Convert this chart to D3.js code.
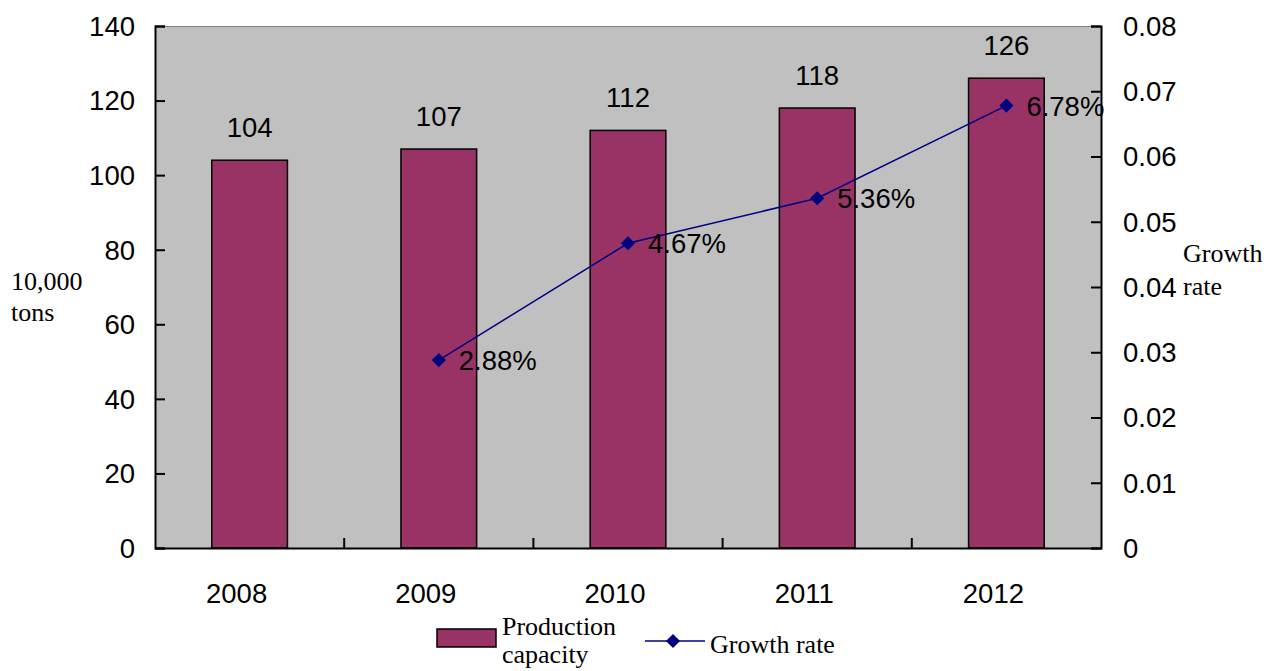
<!DOCTYPE html>
<html><head><meta charset="utf-8">
<script src="https://cdn.jsdelivr.net/npm/d3@7/dist/d3.min.js"></script>
<style>body{margin:0;background:#fff}svg{display:block}</style>
</head><body>
<svg id="c" width="1266" height="671"></svg>
<script>
const years = ["2008","2009","2010","2011","2012"];
const capacity = [104,107,112,118,126];
const growthYears = ["2009","2010","2011","2012"];
const growth = [0.0288,0.0467,0.0536,0.0678];
const growthLabels = ["2.88%","4.67%","5.36%","6.78%"];
const leftTicks = [0,20,40,60,80,100,120,140];
const rightTicks = [0,0.01,0.02,0.03,0.04,0.05,0.06,0.07,0.08];

const svg = d3.select("#c");
const L=155, R=1101, T=26, B=548;
const sans = "Liberation Sans, Arial, sans-serif";
const serif = "Liberation Serif, Times New Roman, serif";
const FS = 27.5, FT = 26;

const x = d3.scaleBand().domain(years).range([L,R]).paddingInner(0.6).paddingOuter(0.3);
const xb = d3.scaleBand().domain(years).range([L,R]);
const y = d3.scaleLinear().domain([0,140]).range([B,T]);
const y2 = d3.scaleLinear().domain([0,0.08]).range([B,T]);

svg.append("rect").attr("x",L).attr("y",T).attr("width",R-L).attr("height",B-T).attr("fill","#C0C0C0");
svg.append("line").attr("x1",L).attr("x2",R).attr("y1",T+0.5).attr("y2",T+0.5).attr("stroke","#808080").attr("stroke-width",1);

svg.selectAll("rect.bar").data(capacity).enter().append("rect").attr("class","bar")
  .attr("x",(d,i)=>x(years[i])).attr("width",x.bandwidth())
  .attr("y",d=>y(d)).attr("height",d=>y(0)-y(d))
  .attr("fill","#993366").attr("stroke","#000").attr("stroke-width",1.5);

svg.selectAll("text.bl").data(capacity).enter().append("text").attr("class","bl")
  .attr("x",(d,i)=>x(years[i])+x.bandwidth()/2).attr("y",d=>y(d)-23)
  .attr("text-anchor","middle").attr("font-family",sans).attr("font-size",FS).text(d=>d);

// axes
const gl = svg.append("g").attr("transform",`translate(${L},0)`)
  .call(d3.axisRight(y).tickValues(leftTicks).tickSize(10).tickFormat(""));
const gr = svg.append("g").attr("transform",`translate(${R},0)`)
  .call(d3.axisLeft(y2).tickValues(rightTicks).tickSize(10).tickFormat(""));
const gb = svg.append("g").attr("transform",`translate(0,${B})`)
  .call(d3.axisTop(xb).tickSize(0).tickFormat(""));
[gl,gr,gb].forEach(g=>{g.selectAll("path,line").attr("stroke","#000").attr("stroke-width",2);});
gb.selectAll(".tick").remove();
const bounds = years.map(d=>xb(d)).slice(1);
svg.selectAll("line.xt").data(bounds).enter().append("line").attr("class","xt")
  .attr("x1",d=>d).attr("x2",d=>d).attr("y1",B).attr("y2",B-10).attr("stroke","#000").attr("stroke-width",2);

svg.selectAll("text.lt").data(leftTicks).enter().append("text").attr("class","lt")
  .attr("x",L-20).attr("y",d=>y(d)).attr("dy","0.36em").attr("text-anchor","end")
  .attr("font-family",sans).attr("font-size",FS).text(d=>d);
svg.selectAll("text.rt").data(rightTicks).enter().append("text").attr("class","rt")
  .attr("x",R+22).attr("y",d=>y2(d)).attr("dy","0.36em").attr("text-anchor","start")
  .attr("font-family",sans).attr("font-size",FS).text(d=>d===0?"0":d.toFixed(2));
svg.selectAll("text.xl").data(years).enter().append("text").attr("class","xl")
  .attr("x",d=>xb(d)+xb.bandwidth()/2-13).attr("y",B+55).attr("text-anchor","middle")
  .attr("font-family",sans).attr("font-size",FS).text(d=>d);

// line
const cx = d=>xb(d)+xb.bandwidth()/2;
const line = d3.line().x((d,i)=>cx(growthYears[i])).y(d=>y2(d));
svg.append("path").datum(growth).attr("d",line).attr("fill","none").attr("stroke","#000080").attr("stroke-width",1.5);
const diamond = d3.symbol().type(d3.symbolSquare).size(100);
svg.selectAll("path.mk").data(growth).enter().append("path").attr("class","mk")
  .attr("d",diamond).attr("transform",(d,i)=>`translate(${cx(growthYears[i])},${y2(d)}) rotate(45)`)
  .attr("fill","#000080");
svg.selectAll("text.gl").data(growth).enter().append("text").attr("class","gl")
  .attr("x",(d,i)=>cx(growthYears[i])+20).attr("y",d=>y2(d)).attr("dy","0.36em")
  .attr("font-family",sans).attr("font-size",FS).text((d,i)=>growthLabels[i]);

// axis titles
const t1 = svg.append("text").attr("font-family",serif).attr("font-size",FT);
t1.append("tspan").attr("x",11).attr("y",290).text("10,000");
t1.append("tspan").attr("x",11).attr("y",321).text("tons");
const t2 = svg.append("text").attr("font-family",serif).attr("font-size",FT);
t2.append("tspan").attr("x",1183).attr("y",262).text("Growth");
t2.append("tspan").attr("x",1183).attr("y",295).text("rate");

// legend
svg.append("rect").attr("x",437).attr("y",629).attr("width",59).attr("height",18)
  .attr("fill","#993366").attr("stroke","#000").attr("stroke-width",1.5);
const lt = svg.append("text").attr("font-family",serif).attr("font-size",FT);
lt.append("tspan").attr("x",502).attr("y",635).text("Production");
lt.append("tspan").attr("x",502).attr("y",663).text("capacity");
svg.append("line").attr("x1",645).attr("x2",705).attr("y1",641).attr("y2",641).attr("stroke","#000080").attr("stroke-width",1.5);
svg.append("path").attr("d",diamond).attr("transform","translate(673,641) rotate(45)").attr("fill","#000080");
svg.append("text").attr("font-family",serif).attr("font-size",FT).attr("x",710).attr("y",653).text("Growth rate");
</script>
</body></html>
